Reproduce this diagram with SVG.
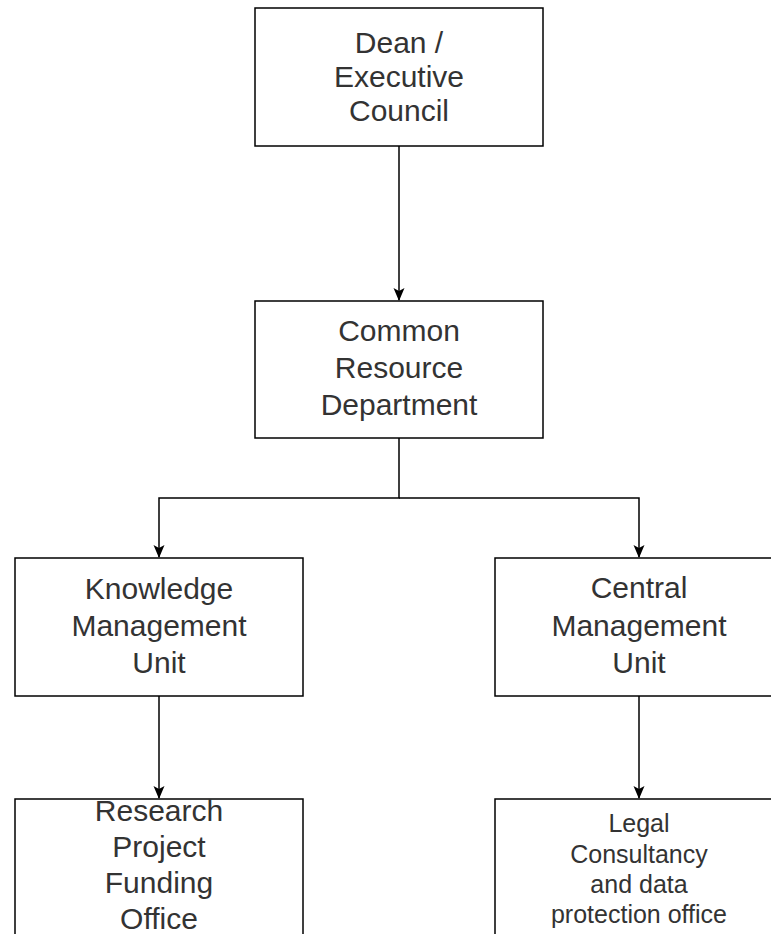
<svg xmlns="http://www.w3.org/2000/svg" width="771" height="934" viewBox="0 0 771 934">
<style>
.box{fill:#fff;stroke:#000;stroke-width:1.5}
.t{font-family:"Liberation Sans",Arial,Helvetica,sans-serif;font-size:30px;fill:#333;text-anchor:middle}
.s{font-size:25px}
.c{fill:none;stroke:#000;stroke-width:1.5}
</style>
<rect width="771" height="934" fill="#fff"/>
<g id="connectors">
<path class="c" d="M399,146 V300"/>
<path class="c" d="M399,438 V498 H159 V557"/>
<path class="c" d="M399,498 H639 V557"/>
<path class="c" d="M159,696 V798"/>
<path class="c" d="M639,696 V798"/>
<g fill="#000">
<path d="M399,301 L393.5,288 L399,291 L404.5,288 Z"/>
<path d="M159,558 L153.5,545 L159,548 L164.5,545 Z"/>
<path d="M639,558 L633.5,545 L639,548 L644.5,545 Z"/>
<path d="M159,799 L153.5,786 L159,789 L164.5,786 Z"/>
<path d="M639,799 L633.5,786 L639,789 L644.5,786 Z"/>
</g>
</g>
<g id="dean">
<rect class="box" x="255" y="8" width="288" height="138"/>
<text class="t" x="399" y="53">Dean /</text>
<text class="t" x="399" y="87">Executive</text>
<text class="t" x="399" y="121">Council</text>
</g>
<g id="common">
<rect class="box" x="255" y="301" width="288" height="137"/>
<text class="t" x="399" y="341">Common</text>
<text class="t" x="399" y="378">Resource</text>
<text class="t" x="399" y="415">Department</text>
</g>
<g id="knowledge">
<rect class="box" x="15" y="558" width="288" height="138"/>
<text class="t" x="159" y="599">Knowledge</text>
<text class="t" x="159" y="636">Management</text>
<text class="t" x="159" y="673">Unit</text>
</g>
<g id="central">
<rect class="box" x="495" y="558" width="288" height="138"/>
<text class="t" x="639" y="598">Central</text>
<text class="t" x="639" y="636">Management</text>
<text class="t" x="639" y="673">Unit</text>
</g>
<g id="research">
<rect class="box" x="15" y="799" width="288" height="138"/>
<text class="t" x="159" y="821">Research</text>
<text class="t" x="159" y="857">Project</text>
<text class="t" x="159" y="893">Funding</text>
<text class="t" x="159" y="929">Office</text>
</g>
<g id="legal">
<rect class="box" x="495" y="799" width="288" height="138"/>
<text class="t s" x="639" y="832">Legal</text>
<text class="t s" x="639" y="863">Consultancy</text>
<text class="t s" x="639" y="893">and data</text>
<text class="t s" x="639" y="923">protection office</text>
</g>
</svg>
